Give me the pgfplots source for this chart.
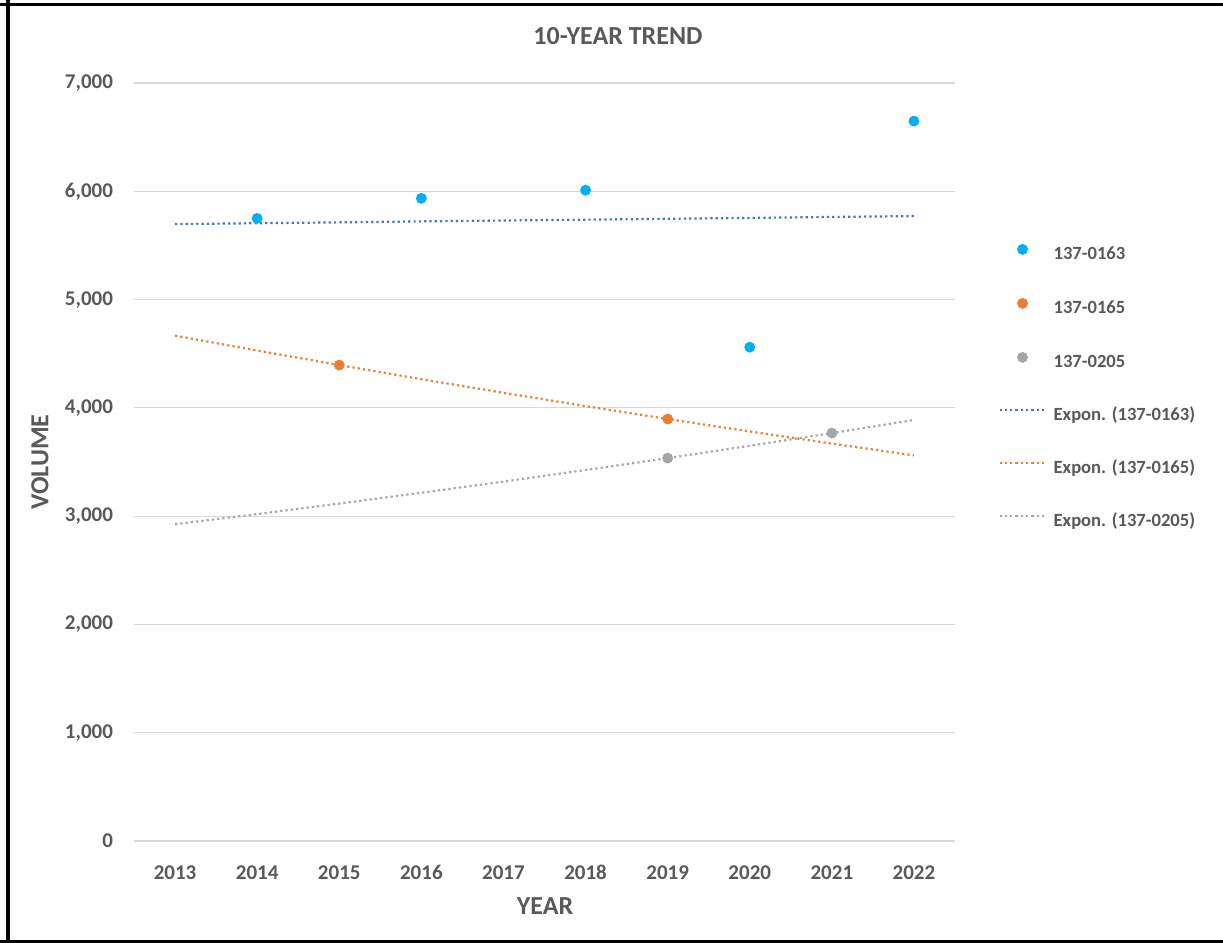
\documentclass[border=0pt]{standalone}
\usepackage{pgfplots}
\pgfplotsset{compat=1.18}
\usepackage{fontspec}
\setmainfont{Carlito}

\definecolor{txtgray}{HTML}{595959}
\definecolor{gridgray}{HTML}{D9D9D9}
\definecolor{ptblue}{HTML}{00B0F0}
\definecolor{trblue}{HTML}{4472C4}
\definecolor{ptorange}{HTML}{ED7D31}
\definecolor{ptgray}{HTML}{A5A5A5}

\tikzset{trend/.style={line width=1.1pt, dash pattern=on 1.1pt off 1.55pt}}
\pgfplotsset{
  dotleg/.style={legend image code/.code={\draw[##1] plot coordinates {(11.5pt,2.5pt)};}},
  lineleg/.style={legend image code/.code={\draw[##1] (0pt,2.5pt) -- (23pt,2.5pt);}},
}

\begin{document}
\begin{tikzpicture}[x=0.5pt,y=0.5pt]
\useasboundingbox (0,0) rectangle (1223,943);
% frame
\draw[black, line width=2pt] (8,0) -- (8,943);
\draw[black, line width=1.6pt] (0,938.5) -- (1223,938.5);
\draw[black, line width=1.4pt] (0,1.5) -- (1223,1.5);

\begin{axis}[
  at={(67pt,51pt)}, anchor=south west,
  scale only axis,
  width=410.5pt, height=379pt,
  xmin=-0.5, xmax=9.5,
  ymin=0, ymax=7000,
  xtick={0,...,9},
  xticklabels={2013,2014,2015,2016,2017,2018,2019,2020,2021,2022},
  ytick={0,1000,...,7000},
  ymajorgrids,
  grid style={gridgray, line width=0.6pt},
  axis line style={draw=none},
  axis x line*=bottom,
  x axis line style={gridgray, line width=0.6pt},
  major tick length=0pt,
  tick style={draw=none},
  ticklabel style={font=\bfseries\fontsize{10.5}{12}\selectfont, text=txtgray},
  /pgf/number format/.cd, 1000 sep={,}, assume math mode=true,
  /pgfplots/.cd,
  yticklabel style={xshift=-7pt},
  xticklabel style={anchor=north, text height=7.5pt, text depth=0pt, yshift=-8pt},
  clip=false,
  legend style={
    at={(1.0524,0.7876)}, anchor=north west,
    draw=none, fill=none, inner sep=0pt,
    font=\bfseries\fontsize{9.3}{10}\selectfont, text=txtgray,
    row sep=17.5pt,
    nodes={inner sep=0pt, text height=7pt, text depth=2pt},
    /tikz/every odd column/.append style={column sep=3.5pt},
  },
  legend cell align=left,
]
% observed volumes
\addplot[only marks, mark=*, mark size=2.5pt, color=ptblue, dotleg]
  coordinates {(1,5750) (3,5935) (5,6010) (7,4560) (9,6648)};
\addlegendentry{137-0163}
\addplot[only marks, mark=*, mark size=2.5pt, color=ptorange, dotleg]
  coordinates {(2,4395) (6,3897)};
\addlegendentry{137-0165}
\addplot[only marks, mark=*, mark size=2.5pt, color=ptgray, dotleg]
  coordinates {(6,3536) (8,3767)};
\addlegendentry{137-0205}
% exponential trend lines
\addplot[trend, color=trblue, mark=none, lineleg]
  coordinates {(0,5697) (1,5705) (2,5713) (3,5722) (4,5730) (5,5738) (6,5746) (7,5754) (8,5763) (9,5771)};
\addlegendentry{Expon. (137-0163)}
\addplot[trend, color=ptorange, mark=none, lineleg]
  coordinates {(0,4667) (1,4529) (2,4395) (3,4265) (4,4139) (5,4016) (6,3897) (7,3782) (8,3670) (9,3561)};
\addlegendentry{Expon. (137-0165)}
\addplot[trend, color=ptgray, mark=none, lineleg]
  coordinates {(0,2925) (1,3019) (2,3116) (3,3216) (4,3319) (5,3426) (6,3536) (7,3650) (8,3767) (9,3888)};
\addlegendentry{Expon. (137-0205)}
\end{axis}

% title and axis titles
\node[font=\bfseries\fontsize{13}{15}\selectfont, text=txtgray] at (618,907) {10-YEAR TREND};
\node[font=\bfseries\fontsize{13}{15}\selectfont, text=txtgray, rotate=90] at (40,481) {VOLUME};
\node[font=\bfseries\fontsize{13}{15}\selectfont, text=txtgray] at (545,37) {YEAR};
\end{tikzpicture}
\end{document}
